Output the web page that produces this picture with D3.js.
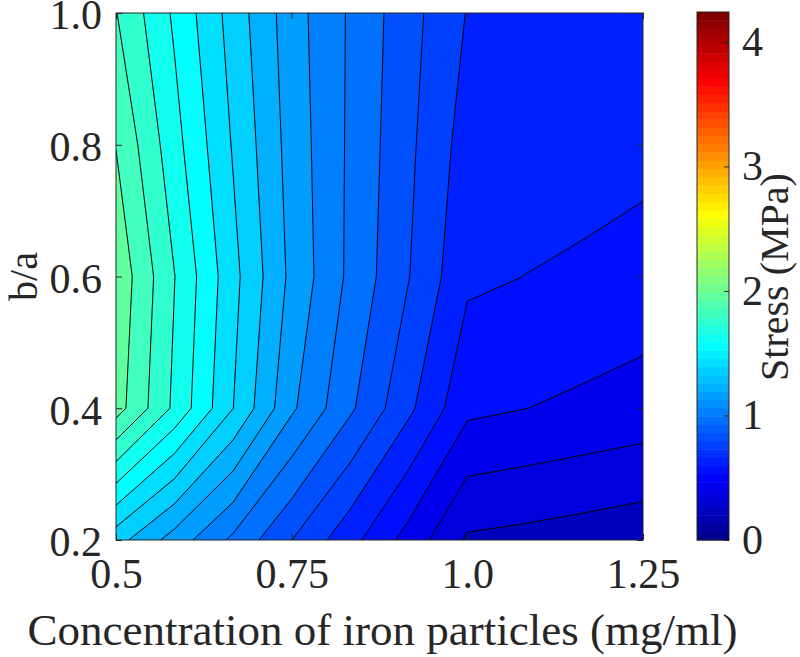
<!DOCTYPE html>
<html><head><meta charset="utf-8">
<script src="https://cdn.jsdelivr.net/npm/d3@7"></script>
<style>
body{margin:0;background:#fff}
svg text{font-family:"Liberation Serif","Times New Roman",serif;fill:#262626}
</style>
</head><body>
<svg id="chart" width="800" height="657"></svg>
<script>
// ---- data ----
const concentration = [0.5, 0.5833, 0.6667, 0.75, 0.8333, 0.9167, 1.0, 1.0833, 1.1667, 1.25]; // x nodes
const ratioBA = [1.0, 0.8, 0.6, 0.4, 0.2];                                                    // y nodes (top to bottom)
const stressAt10 = [1.804, 1.583, 1.357, 1.144, 0.987, 0.836, 0.695, 0.680, 0.675, 0.670];
const stressAt08 = [1.897, 1.636, 1.391, 1.159, 0.983, 0.821, 0.655, 0.650, 0.640, 0.630];
const stressAt06 = [1.976, 1.702, 1.431, 1.175, 0.978, 0.803, 0.618, 0.599, 0.584, 0.560];
const stressAt04 = [1.945, 1.679, 1.401, 1.117, 0.917, 0.721, 0.522, 0.501, 0.480, 0.460];
const stressAt02 = [1.340, 1.156, 0.979, 0.801, 0.634, 0.461, 0.286, 0.271, 0.253, 0.234];
const contourLevels = [0.2,0.3,0.4,0.5,0.6,0.7,0.8,0.9,1.0,1.1,1.2,1.3,1.4,1.5,1.6,1.7,1.8,1.9,2.0,2.1];
const xTickValues = [0.5, 0.75, 1.0, 1.25];
const xTickLabels = ["0.5", "0.75", "1.0", "1.25"];
const yTickValues = [0.2, 0.4, 0.6, 0.8, 1.0];
const yTickLabels = ["0.2", "0.4", "0.6", "0.8", "1.0"];
const cbarTickValues = [0, 1, 2, 3, 4];
const colorMin = 0, colorMax = 4.24;
const xTitle = "Concentration of iron particles (mg/ml)";
const yTitle = "b/a";
const cbarTitle = "Stress (MPa)";

// ---- jet(64) colormap ----
function jet64(k) { // k = 1..64
  let r = 0, g = 0, b = 0;
  if (k >= 25 && k <= 40) r = (k - 24) / 16; else if (k > 40 && k <= 55) r = 1; else if (k > 55) r = (48 - (k - 24)) / 16;
  if (k >= 9 && k <= 24) g = (k - 8) / 16; else if (k > 24 && k <= 39) g = 1; else if (k > 39 && k <= 55) g = (56 - k) / 16;
  if (k <= 8) b = (k + 8) / 16; else if (k <= 23) b = 1; else if (k <= 39) b = (40 - k) / 16;
  return d3.rgb(Math.round(r * 255), Math.round(g * 255), Math.round(b * 255)).toString();
}
function colorOf(v) {
  const k = Math.max(1, Math.min(64, Math.floor((v - colorMin) / (colorMax - colorMin) * 64) + 1));
  return jet64(k);
}
const levelStep = contourLevels[1] - contourLevels[0];

const svg = d3.select("#chart");
const L = 116, R = 643, T = 13, B = 540;
const x = d3.scaleLinear().domain([0.5, 1.25]).range([L, R]);
const y = d3.scaleLinear().domain([0.2, 1.0]).range([B, T]);

svg.append("defs").append("clipPath").attr("id", "plotClip")
  .append("rect").attr("x", L).attr("y", T).attr("width", R - L).attr("height", B - T);

const nx = concentration.length, ny = ratioBA.length;
const grid = [stressAt10, stressAt08, stressAt06, stressAt04, stressAt02].flat();
const contours = d3.contours().size([nx, ny]).thresholds(contourLevels)(grid);

// grid coordinate -> data -> pixel
const xIdx = d3.scaleLinear().domain(d3.range(nx).map(i => i + 0.5)).range(concentration);
const yIdx = d3.scaleLinear().domain(d3.range(ny).map(i => i + 0.5)).range(ratioBA);
function gx(c) {
  if (c <= 0.5) return concentration[0] + (c - 0.5) * (concentration[1] - concentration[0]);
  if (c >= nx - 0.5) return concentration[nx - 1] + (c - nx + 0.5) * (concentration[nx - 1] - concentration[nx - 2]);
  return xIdx(c);
}
function gy(c) {
  if (c <= 0.5) return ratioBA[0] + (c - 0.5) * (ratioBA[1] - ratioBA[0]);
  if (c >= ny - 0.5) return ratioBA[ny - 1] + (c - ny + 0.5) * (ratioBA[ny - 1] - ratioBA[ny - 2]);
  return yIdx(c);
}
const path = d3.geoPath(d3.geoTransform({
  point: function (px, py) { this.stream.point(x(gx(px)), y(gy(py))); }
}));

const plot = svg.append("g").attr("clip-path", "url(#plotClip)");
plot.append("rect").attr("x", L).attr("y", T).attr("width", R - L).attr("height", B - T)
  .attr("fill", colorOf(contourLevels[0] - levelStep / 2));
plot.selectAll("path.fill").data(contours).join("path").attr("class", "fill")
  .attr("d", path).attr("fill", d => colorOf(d.value + levelStep / 2)).attr("stroke", "none");
plot.selectAll("path.line").data(contours).join("path").attr("class", "line")
  .attr("d", path).attr("fill", "none").attr("stroke", "#000").attr("stroke-width", 1);

// ---- axes ----
const axisColor = "#262626";
function styleAxis(g, fontSize) {
  g.select(".domain").remove();
  g.selectAll("line").attr("stroke", axisColor);
  g.selectAll("text").attr("font-size", fontSize).attr("font-family", "Liberation Serif, Times New Roman, serif").attr("fill", axisColor);
}
svg.append("g").attr("transform", `translate(0,${B})`)
  .call(d3.axisBottom(x).tickValues(xTickValues).tickSize(-6).tickPadding(18).tickFormat((d, i) => xTickLabels[i]))
  .call(g => styleAxis(g, 42));
svg.append("g").attr("transform", `translate(0,${T})`)
  .call(d3.axisTop(x).tickValues(xTickValues).tickSize(-6).tickFormat(""))
  .call(g => styleAxis(g, 42));
svg.append("g").attr("transform", `translate(${L},0)`)
  .call(d3.axisLeft(y).tickValues(yTickValues).tickSize(-6).tickPadding(14).tickFormat((d, i) => yTickLabels[i]))
  .call(g => styleAxis(g, 42))
  .call(g => g.selectAll("text").attr("dy", "0.38em"));
svg.append("g").attr("transform", `translate(${R},0)`)
  .call(d3.axisRight(y).tickValues(yTickValues).tickSize(-6).tickFormat(""))
  .call(g => styleAxis(g, 42));
svg.append("rect").attr("x", L).attr("y", T).attr("width", R - L).attr("height", B - T)
  .attr("fill", "none").attr("stroke", axisColor).attr("stroke-width", 1);

svg.append("text").attr("x", (L + R) / 2 + 3).attr("y", 645).attr("text-anchor", "middle")
  .attr("font-size", 45).text(xTitle);
svg.append("text").attr("transform", `translate(37,${(T + B) / 2}) rotate(-90)`).attr("text-anchor", "middle")
  .attr("font-size", 40).text(yTitle);

// ---- colorbar ----
const cbL = 697, cbR = 729, cbT = 12, cbB = 540;
const cy = d3.scaleLinear().domain([colorMin, colorMax]).range([cbB, cbT]);
const bands = d3.range(64);
svg.append("g").selectAll("rect").data(bands).join("rect")
  .attr("x", cbL).attr("width", cbR - cbL)
  .attr("y", k => cy(colorMin + (k + 1) / 64 * (colorMax - colorMin)))
  .attr("height", k => cy(colorMin + k / 64 * (colorMax - colorMin)) - cy(colorMin + (k + 1) / 64 * (colorMax - colorMin)) + 0.5)
  .attr("fill", k => jet64(k + 1));
svg.append("g").attr("transform", `translate(${cbR},0)`)
  .call(d3.axisRight(cy).tickValues(cbarTickValues).tickSize(-5).tickPadding(13).tickFormat(d3.format("d")))
  .call(g => styleAxis(g, 42));
svg.append("rect").attr("x", cbL).attr("y", cbT).attr("width", cbR - cbL).attr("height", cbB - cbT)
  .attr("fill", "none").attr("stroke", axisColor).attr("stroke-width", 1);
svg.append("text").attr("transform", `translate(788,${(cbT + cbB) / 2 + 1}) rotate(-90)`).attr("text-anchor", "middle")
  .attr("font-size", 40).text(cbarTitle);
</script>
</body></html>
